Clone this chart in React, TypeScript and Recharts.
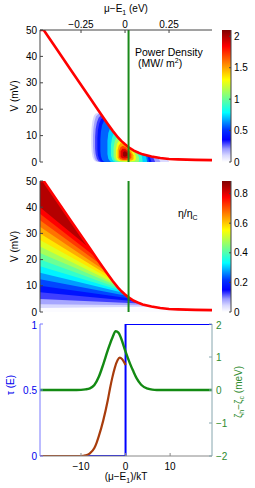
import React from 'react';
import { ComposedChart, BarChart, Bar, Area, Line, XAxis, YAxis, Label } from 'recharts';

const FONT = '"Liberation Sans", Arial, Helvetica, sans-serif';
const FRAME = '#444';

// ---------------- data ----------------
const energyTicks = [-0.25, 0, 0.25];
const voltageTicks = [0, 10, 20, 30, 40, 50];
const powerScaleTicks = [0, 0.5, 1, 1.5, 2];
const effScaleTicks = [0, 0.2, 0.4, 0.6, 0.8];
const reducedTicks = [-10, 0, 10];
const tauTicks = [0, 0.5, 1];
const zetaTicks = [-2, -1, 0, 1, 2];

const energyRange: [number, number] = [-0.483, 0.494];
const reducedRange: [number, number] = [-19.2, 19.4];
const voltageRange: [number, number] = [0, 50];
const powerMax = 2.1;
const effMax = 0.885;

// stopping voltage (red line), [mu-E1 (eV), V (mV)]
const stoppingVoltage: [number, number][] = [
  [-0.483, 50], [-0.462, 50], [-0.4, 43.9], [-0.3, 34.1], [-0.2, 24.3], [-0.15, 19.4],
  [-0.1, 14.6], [-0.07, 11.8], [-0.04, 9.3], [-0.02, 7.9], [0, 6.7], [0.02, 5.6],
  [0.05, 4.3], [0.08, 3.4], [0.1, 2.9], [0.15, 2.1], [0.2, 1.5], [0.25, 1.15],
  [0.3, 1.0], [0.4, 0.8], [0.494, 0.7],
];
const muMarker = 0.02;

// power density contours: level (MW/m^2), points [x, Vlow, Vhigh]
const powerContours: { level: number; pts: [number, number, number][] }[] = [
  { level: 0.05, pts: [[-0.192, 7, 10], [-0.19, 4, 13], [-0.185, 2, 15.5], [-0.177, 0.8, 17.5], [-0.167, 0.2, 18.4], [-0.155, 0, 18.6], [-0.145, 0, 18.5], [-0.1, 0, 14.5], [-0.07, 0, 11.7], [-0.04, 0, 9.2], [0, 0, 6.6], [0.05, 0, 4.2], [0.1, 0, 2.8], [0.15, 0, 2.0], [0.2, 0, 1.4], [0.24, 0, 1.0], [0.25, 0, 0.2]] },
  { level: 0.15, pts: [[-0.182, 6, 10], [-0.179, 3.5, 13], [-0.173, 1.5, 15.5], [-0.165, 0.5, 17.3], [-0.152, 0.1, 18.2], [-0.14, 0, 18.2], [-0.1, 0, 14.5], [-0.07, 0, 11.7], [-0.04, 0, 9.2], [0, 0, 6.6], [0.05, 0, 4.2], [0.1, 0, 2.8], [0.15, 0, 1.9], [0.19, 0, 1.3], [0.2, 0, 0.2]] },
  { level: 0.25, pts: [[-0.17, 5, 9.5], [-0.167, 3, 12.5], [-0.16, 1.2, 15], [-0.15, 0.3, 16.8], [-0.138, 0, 17.6], [-0.125, 0, 17.0], [-0.1, 0, 14.5], [-0.07, 0, 11.7], [-0.04, 0, 9.2], [0, 0, 6.6], [0.05, 0, 4.2], [0.1, 0, 2.8], [0.16, 0, 1.8], [0.17, 0, 0.2]] },
  { level: 0.35, pts: [[-0.157, 4.5, 9], [-0.154, 2.5, 12], [-0.147, 1, 14.5], [-0.137, 0.2, 16.2], [-0.125, 0, 16.8], [-0.1, 0, 14.5], [-0.07, 0, 11.7], [-0.04, 0, 9.2], [0, 0, 6.6], [0.05, 0, 4.2], [0.1, 0, 2.8], [0.14, 0, 2.0], [0.15, 0, 0.2]] },
  { level: 0.5, pts: [[-0.14, 4, 8.5], [-0.137, 2.2, 11.5], [-0.13, 0.8, 14], [-0.12, 0.1, 15.5], [-0.108, 0, 15.2], [-0.1, 0, 14.5], [-0.07, 0, 11.7], [-0.04, 0, 9.2], [0, 0, 6.6], [0.05, 0, 4.2], [0.1, 0, 2.8], [0.13, 0, 2.1], [0.135, 0, 0.2]] },
  { level: 0.65, pts: [[-0.1, 3, 8], [-0.095, 1.2, 11], [-0.085, 0.3, 12.8], [-0.075, 0, 12.5], [-0.04, 0, 9.2], [0, 0, 6.6], [0.05, 0, 4.2], [0.1, 0, 2.8], [0.12, 0, 2.2], [0.125, 0, 0.2]] },
  { level: 0.8, pts: [[-0.08, 2.5, 6.5], [-0.074, 1, 9], [-0.065, 0.3, 10.8], [-0.055, 0, 10.3], [-0.04, 0, 9.1], [0, 0, 6.5], [0.05, 0, 4.1], [0.08, 0, 3.2], [0.095, 0, 2.5], [0.1, 0, 0.2]] },
  { level: 1.0, pts: [[-0.065, 2, 5.5], [-0.058, 0.8, 8], [-0.048, 0.3, 9.5], [-0.035, 0.1, 8.7], [0, 0, 6.5], [0.04, 0, 4.5], [0.07, 0, 3.3], [0.08, 0.2, 1.5]] },
  { level: 1.2, pts: [[-0.052, 1.8, 4.8], [-0.046, 0.8, 6.8], [-0.035, 0.4, 8.0], [-0.02, 0.3, 7.6], [0, 0.2, 6.4], [0.03, 0.2, 4.8], [0.055, 0.4, 3.3], [0.062, 1, 2]] },
  { level: 1.4, pts: [[-0.042, 1.8, 4.5], [-0.036, 1, 6.2], [-0.025, 0.6, 7.2], [-0.01, 0.5, 6.8], [0.01, 0.5, 5.8], [0.035, 0.6, 4.2], [0.048, 1, 2.6]] },
  { level: 1.6, pts: [[-0.034, 1.8, 4.2], [-0.026, 1.1, 5.6], [-0.012, 0.8, 6.2], [0.005, 0.8, 5.6], [0.025, 1, 4.2], [0.036, 1.5, 2.8]] },
  { level: 1.8, pts: [[-0.025, 2, 4], [-0.016, 1.4, 5], [0, 1.3, 5], [0.016, 1.5, 4], [0.025, 2, 3]] },
  { level: 2.0, pts: [[-0.012, 2.4, 3.6], [-0.004, 2, 4.1], [0.006, 2.1, 3.9], [0.014, 2.5, 3.2]] },
];

// efficiency contours: level, V at left edge, point where it meets the red line
const effContours = [
  { level: 0.8, left: 40, mx: -0.2, mv: 24.3 },
  { level: 0.75, left: 37.5, mx: -0.165, mv: 20.9 },
  { level: 0.7, left: 35, mx: -0.135, mv: 18.0 },
  { level: 0.65, left: 32.5, mx: -0.11, mv: 15.6 },
  { level: 0.6, left: 30, mx: -0.092, mv: 13.8 },
  { level: 0.55, left: 27.5, mx: -0.077, mv: 12.4 },
  { level: 0.5, left: 25, mx: -0.062, mv: 11.1 },
  { level: 0.45, left: 22.5, mx: -0.05, mv: 10.1 },
  { level: 0.4, left: 20, mx: -0.037, mv: 9.1 },
  { level: 0.35, left: 17.5, mx: -0.024, mv: 8.2 },
  { level: 0.3, left: 15, mx: -0.01, mv: 7.3 },
  { level: 0.25, left: 12.5, mx: 0.008, mv: 6.2 },
  { level: 0.2, left: 10, mx: 0.03, mv: 5.2 },
  { level: 0.15, left: 7.5, mx: 0.055, mv: 4.1 },
  { level: 0.1, left: 5, mx: 0.085, mv: 3.2 },
  { level: 0.06, left: 3, mx: 0.11, mv: 2.6 },
  { level: 0.03, left: 1.5, mx: 0.14, mv: 2.0 },
];

// bottom panel
const tauStep: [number, number][] = [[-19.2, 0], [0, 0], [0, 1], [19.4, 1]];
const fluxCurve: [number, number][] = [
  [-19.2, 0], [-10, 0], [-9, 0.005], [-8, 0.02], [-7, 0.06], [-6.5, 0.1], [-6, 0.15],
  [-5, 0.27], [-4, 0.42], [-3.5, 0.51], [-3, 0.59], [-2.4, 0.67], [-1.8, 0.725],
  [-1.3, 0.745], [-0.8, 0.735], [-0.4, 0.715], [0, 0.69],
];
const zetaCurve: [number, number][] = [
  [-19.2, 0], [-11, 0], [-9, 0.02], [-8, 0.05], [-7, 0.15], [-6, 0.4], [-5, 0.78],
  [-4, 1.2], [-3, 1.57], [-2.2, 1.78], [-1.6, 1.74], [-1, 1.57], [-0.1, 1.2],
  [1, 0.8], [1.7, 0.58], [2.5, 0.35], [3.5, 0.16], [5, 0.04], [6, 0.01], [7, 0], [19.4, 0],
];

// ---------------- colour map ----------------
const CMAP_STOPS: [number, string][] = [
  [0, '#ffffff'], [0.05, '#d8d8ff'], [0.1, '#9a9aff'], [0.17, '#0000ff'], [0.24, '#0030ff'],
  [0.375, '#00ffff'], [0.625, '#ffff00'], [0.875, '#ff0000'], [1, '#800000'],
];
const hex = (c: string) => [1, 3, 5].map((i) => parseInt(c.slice(i, i + 2), 16));
function cmap(s: number) {
  const t = Math.max(0, Math.min(1, s));
  for (let i = 1; i < CMAP_STOPS.length; i++) {
    const [o1, c1] = CMAP_STOPS[i - 1];
    const [o2, c2] = CMAP_STOPS[i];
    if (t <= o2) {
      const f = (t - o1) / (o2 - o1);
      const a = hex(c1), b = hex(c2);
      const rgb = a.map((v, k) => Math.round(v + (b[k] - v) * f));
      return `rgb(${rgb.join(',')})`;
    }
  }
  return CMAP_STOPS[CMAP_STOPS.length - 1][1];
}

const toXY = (pts: [number, number][]) => pts.map(([x, v]) => ({ x, v }));
const toRange = (pts: [number, number, number][]) => pts.map(([x, lo, hi]) => ({ x, r: [lo, hi] }));
const effPolygon = (c: { left: number; mx: number; mv: number }) => [
  { x: energyRange[0], v: c.left },
  { x: c.mx, v: c.mv },
  ...stoppingVoltage.filter(([x]) => x > c.mx + 0.001).map(([x, v]) => ({ x, v })),
];

const minus = (v: number) => String(v).replace('-', '\u2212');
const tickStyle = { fontSize: 10, fill: '#000', fontFamily: FONT };

// ---------------- labels ----------------
const TopTitle = (p: any) => {
  const vb = p.viewBox;
  return (
    <text x={vb.x + vb.width / 2} y={vb.y + 11.5} textAnchor="middle" fontSize={10} fontFamily={FONT} fill="#000">
      μ−E<tspan dy={3} fontSize={7}>1</tspan><tspan dy={-3}> (eV)</tspan>
    </text>
  );
};
const VLabel = (p: any) => {
  const vb = p.viewBox;
  const x = vb.x + 14, y = vb.y + vb.height / 2;
  return (
    <text x={x} y={y} transform={`rotate(-90, ${x}, ${y})`} textAnchor="middle" dominantBaseline="central" fontSize={10} fontFamily={FONT} fill="#000">
      V (mV)
    </text>
  );
};
const BottomTitle = (p: any) => {
  const vb = p.viewBox;
  return (
    <text x={vb.x + vb.width / 2} y={vb.y + 23.5} textAnchor="middle" fontSize={10} fontFamily={FONT} fill="#000">
      (μ−E<tspan dy={3} fontSize={7}>1</tspan><tspan dy={-3}>)/kT</tspan>
    </text>
  );
};
const TauLabel = (p: any) => {
  const vb = p.viewBox;
  const x = vb.x + 10, y = vb.y + 61;
  return (
    <text x={x} y={y} transform={`rotate(-90, ${x}, ${y})`} textAnchor="middle" dominantBaseline="central" fontSize={10} fontFamily={FONT} fill="#0000ee">
      τ (E)
    </text>
  );
};
const ZetaLabel = (p: any) => {
  const vb = p.viewBox;
  const x = vb.x + 26, y = vb.y + vb.height / 2 + 2;
  return (
    <text x={x} y={y} transform={`rotate(-90, ${x}, ${y})`} textAnchor="middle" dominantBaseline="central" fontSize={10} fontFamily={FONT} fill="#2e8b2e">
      ζ<tspan dy={3} fontSize={7}>h</tspan><tspan dy={-3}>−ζ</tspan><tspan dy={3} fontSize={7}>c</tspan><tspan dy={-3}> (meV)</tspan>
    </text>
  );
};

// ---------------- panels ----------------
function PowerPanel() {
  return (
    <ComposedChart width={255} height={170} margin={{ top: 0, right: 43, bottom: 8, left: 0 }}>
      <XAxis xAxisId="t" orientation="top" type="number" dataKey="x" domain={energyRange} ticks={energyTicks}
        height={30} tickSize={-3} tickMargin={5} tickFormatter={minus} stroke={FRAME} tick={tickStyle} allowDataOverflow>
        <Label content={TopTitle} />
      </XAxis>
      <XAxis xAxisId="b" orientation="bottom" type="number" dataKey="x" domain={energyRange} ticks={energyTicks}
        height={0} mirror tick={false} tickSize={3} stroke={FRAME} allowDataOverflow />
      <YAxis yAxisId="l" type="number" domain={voltageRange} ticks={voltageTicks} width={40} tickSize={-3}
        tickMargin={6} stroke={FRAME} tick={tickStyle} allowDataOverflow>
        <Label content={VLabel} />
      </YAxis>
      <YAxis yAxisId="r" orientation="right" type="number" domain={voltageRange} ticks={voltageTicks} width={0}
        mirror tick={false} tickSize={3} stroke={FRAME} allowDataOverflow />
      {powerContours.map((c, i) => {
        const next = i < powerContours.length - 1 ? powerContours[i + 1].level : powerMax;
        return (
          <Area key={c.level} xAxisId="t" yAxisId="l" data={toRange(c.pts)} dataKey="r" type="linear"
            stroke="none" fill={cmap((c.level + next) / 2 / powerMax)} fillOpacity={1} isAnimationActive={false} />
        );
      })}
      <Line xAxisId="t" yAxisId="l" data={toXY(stoppingVoltage)} dataKey="v" type="linear" stroke="#ff0000"
        strokeWidth={2.6} dot={false} isAnimationActive={false} />
      <Line xAxisId="t" yAxisId="l" data={toXY([[muMarker, 0], [muMarker, 50]])} dataKey="v" type="linear"
        stroke="#1a8a1a" strokeWidth={2} dot={false} isAnimationActive={false} />
    </ComposedChart>
  );
}

function EfficiencyPanel() {
  return (
    <ComposedChart width={255} height={150} margin={{ top: 11, right: 43, bottom: 8, left: 0 }}>
      <XAxis xAxisId="t" orientation="top" type="number" dataKey="x" domain={energyRange} ticks={energyTicks}
        height={0} mirror tick={false} tickSize={3} stroke={FRAME} allowDataOverflow />
      <XAxis xAxisId="b" orientation="bottom" type="number" dataKey="x" domain={energyRange} ticks={energyTicks}
        height={0} mirror tick={false} tickSize={3} stroke={FRAME} allowDataOverflow />
      <YAxis yAxisId="l" type="number" domain={voltageRange} ticks={voltageTicks} width={40} tickSize={-3}
        tickMargin={6} stroke={FRAME} tick={tickStyle} allowDataOverflow>
        <Label content={VLabel} />
      </YAxis>
      <YAxis yAxisId="r" orientation="right" type="number" domain={voltageRange} ticks={voltageTicks} width={0}
        mirror tick={false} tickSize={3} stroke={FRAME} allowDataOverflow />
      <Area xAxisId="t" yAxisId="l" data={toXY(stoppingVoltage)} dataKey="v" type="linear" stroke="none"
        fill={cmap(0.84 / effMax)} fillOpacity={1} isAnimationActive={false} />
      {effContours.map((c, i) => {
        const next = i < effContours.length - 1 ? effContours[i + 1].level : 0;
        const val = i < effContours.length - 1 ? (c.level + next) / 2 : 0.005;
        return (
          <Area key={c.level} xAxisId="t" yAxisId="l" data={effPolygon(c)} dataKey="v" type="linear"
            stroke="none" fill={cmap(val / effMax)} fillOpacity={1} isAnimationActive={false} />
        );
      })}
      <Line xAxisId="t" yAxisId="l" data={toXY(stoppingVoltage)} dataKey="v" type="linear" stroke="#ff0000"
        strokeWidth={2.6} dot={false} isAnimationActive={false} />
      <Line xAxisId="t" yAxisId="l" data={toXY([[muMarker, 0], [muMarker, 50]])} dataKey="v" type="linear"
        stroke="#1a8a1a" strokeWidth={2} dot={false} isAnimationActive={false} />
    </ComposedChart>
  );
}

function TransportPanel() {
  const blue = '#0000ee';
  const green = '#2e8b2e';
  return (
    <ComposedChart width={255} height={168} margin={{ top: 4, right: 0, bottom: 0, left: 0 }}>
      <XAxis xAxisId="b" orientation="bottom" type="number" dataKey="x" domain={reducedRange} ticks={reducedTicks}
        height={32} tickSize={-3} tickMargin={10} tickFormatter={minus} stroke="#888" tick={tickStyle} allowDataOverflow>
        <Label content={BottomTitle} />
      </XAxis>
      <XAxis xAxisId="t" orientation="top" type="number" dataKey="x" domain={reducedRange} ticks={reducedTicks}
        height={0} mirror tick={false} tickSize={3} stroke={FRAME} allowDataOverflow />
      <YAxis yAxisId="tau" type="number" domain={[0, 1]} ticks={tauTicks} width={40} tickSize={-3} tickMargin={6}
        stroke="#7878ff" tick={{ ...tickStyle, fill: blue }} allowDataOverflow>
        <Label content={TauLabel} />
      </YAxis>
      <YAxis yAxisId="zeta" orientation="right" type="number" domain={[-2, 2]} ticks={zetaTicks} width={43}
        tickSize={-3} tickMargin={7} tickFormatter={minus} stroke="#86a6ae" tick={{ ...tickStyle, fill: green }} allowDataOverflow>
        <Label content={ZetaLabel} />
      </YAxis>
      <Line xAxisId="b" yAxisId="tau" data={toXY(tauStep)} dataKey="v" type="linear" stroke="#0000ff"
        strokeWidth={2} dot={false} isAnimationActive={false} />
      <Line xAxisId="b" yAxisId="tau" data={toXY(fluxCurve)} dataKey="v" type="monotone" stroke="#a83c0c"
        strokeWidth={2.2} dot={false} isAnimationActive={false} />
      <Line xAxisId="b" yAxisId="zeta" data={toXY(zetaCurve)} dataKey="v" type="monotone" stroke="#138a13"
        strokeWidth={2.4} dot={false} isAnimationActive={false} />
    </ComposedChart>
  );
}

function ColorBar({ id, height, mt, mb, max, ticks }: { id: string; height: number; mt: number; mb: number; max: number; ticks: number[] }) {
  const data = [{ k: 'scale', v: max }];
  return (
    <BarChart width={33} height={height} data={data} margin={{ top: mt, right: 0, bottom: mb, left: 0 }} barCategoryGap={0} barGap={0}>
      <defs>
        <linearGradient id={id} x1="0" y1="1" x2="0" y2="0">
          {CMAP_STOPS.map(([o, c]) => (
            <stop key={o} offset={o} stopColor={c} />
          ))}
        </linearGradient>
      </defs>
      <XAxis xAxisId="b" dataKey="k" height={0} tick={false} tickLine={false} stroke={FRAME} />
      <XAxis xAxisId="t" dataKey="k" orientation="top" height={0} tick={false} tickLine={false} stroke={FRAME} />
      <YAxis yAxisId="r" orientation="right" type="number" domain={[0, max]} ticks={ticks} width={24} tickSize={-2}
        tickMargin={5} stroke={FRAME} tick={tickStyle} allowDataOverflow />
      <YAxis yAxisId="l" orientation="left" type="number" domain={[0, max]} ticks={ticks} width={0} mirror
        tick={false} tickSize={2} stroke={FRAME} allowDataOverflow />
      <Bar xAxisId="b" yAxisId="r" dataKey="v" fill={`url(#${id})`} isAnimationActive={false} />
    </BarChart>
  );
}

export default function App() {
  const abs = (left: number, top: number): React.CSSProperties => ({ position: 'absolute', left, top });
  return (
    <div style={{ position: 'absolute', left: 0, top: 0, width: 255, height: 488, background: '#fff', fontFamily: FONT }}>
      <div style={abs(0, 0)}><PowerPanel /></div>
      <div style={abs(222, 0)}>
        <ColorBar id="cbPower" height={170} mt={30} mb={8} max={powerMax} ticks={powerScaleTicks} />
      </div>
      <div style={abs(0, 170)}><EfficiencyPanel /></div>
      <div style={abs(222, 170)}>
        <ColorBar id="cbEff" height={150} mt={11} mb={8} max={effMax} ticks={effScaleTicks} />
      </div>
      <div style={abs(0, 320)}><TransportPanel /></div>
      <div style={{ ...abs(135, 46), fontSize: 10.5, lineHeight: '12px', whiteSpace: 'nowrap' }}>Power Density</div>
      <div style={{ ...abs(138, 57), fontSize: 10.5, lineHeight: '12px', whiteSpace: 'nowrap' }}>
        (MW/ m<sup style={{ fontSize: 7, verticalAlign: 'top', lineHeight: '8px' }}>2</sup>)
      </div>
      <div style={{ ...abs(178, 207), fontSize: 10.5, lineHeight: '12px', whiteSpace: 'nowrap' }}>
        η/η<sub style={{ fontSize: 7, verticalAlign: 'baseline', position: 'relative', top: 3 }}>C</sub>
      </div>
    </div>
  );
}
